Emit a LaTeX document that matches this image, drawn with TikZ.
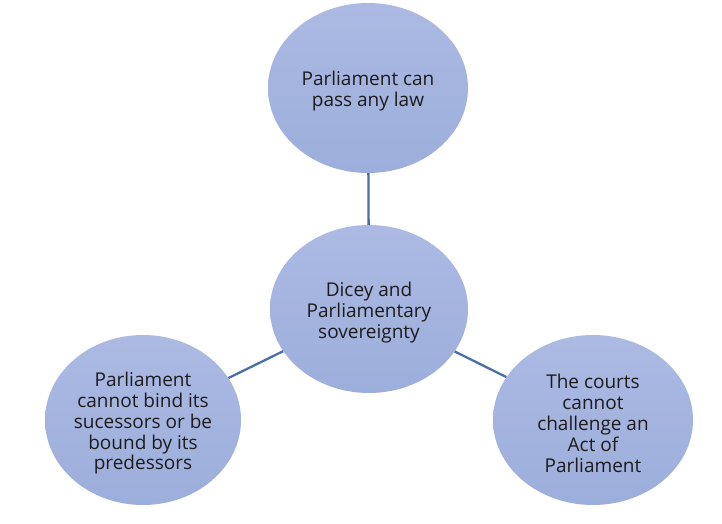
\documentclass[tikz,border=0pt]{standalone}
\usepackage{fontspec}
\setmainfont{Open Sans}
\usetikzlibrary{shapes.geometric}
\definecolor{circtop}{HTML}{ACBAE3}
\definecolor{circbot}{HTML}{9CAEDB}
\definecolor{linkcol}{HTML}{4A6EA6}
\definecolor{txtcol}{HTML}{1C1C1C}
\newcommand{\bubstrut}{\rule{0pt}{21pt}}
\tikzset{
  bubble/.style={ellipse, inner sep=0pt, minimum width=200pt, minimum height=170pt,
    top color=circtop, bottom color=circbot, draw=none,
    align=center, text=txtcol, font=\fontsize{19}{20.8}\selectfont},
  link/.style={draw=linkcol, line width=2.3pt}
}
\begin{document}
\begin{tikzpicture}[x=1pt,y=-1pt]
\useasboundingbox (0,0) rectangle (722,524);
\node[bubble] (top) at (368,88) {\bubstrut Parliament can\\pass any law};
\node[bubble, minimum width=198pt, minimum height=168pt] (mid) at (369,309) {\bubstrut Dicey and\\Parliamentary\\sovereignty};
\node[bubble, minimum width=196pt] (left) at (143,420) {\bubstrut Parliament\\cannot bind its\\sucessors or be\\bound by its\\predessors};
\node[bubble] (right) at (593,420) {\bubstrut The courts\\cannot\\challenge an\\Act of\\Parliament};
\draw[link] (mid) -- (top);
\draw[link] (mid) -- (left);
\draw[link] (mid) -- (right);
\end{tikzpicture}
\end{document}
